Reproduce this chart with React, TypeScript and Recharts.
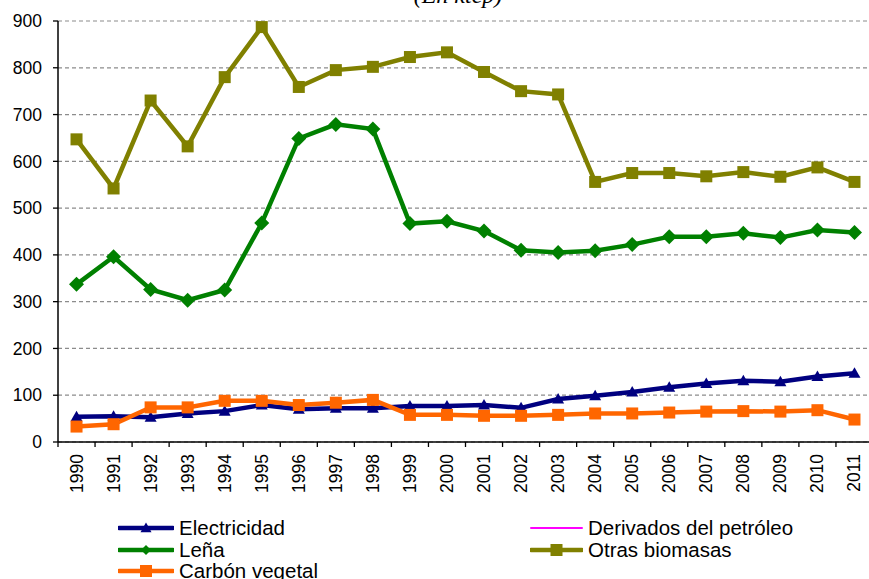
import React from "react";
import {
  LineChart,
  Line,
  XAxis,
  YAxis,
  CartesianGrid,
  Legend,
} from "recharts";

// consumo por fuente, en ktep
const years = [
  "1990", "1991", "1992", "1993", "1994", "1995", "1996", "1997", "1998", "1999", "2000",
  "2001", "2002", "2003", "2004", "2005", "2006", "2007", "2008", "2009", "2010", "2011",
];
const electricidad = [54, 55, 53, 61, 66, 79, 70, 72, 72, 77, 77, 79, 73, 92, 99, 107, 117, 125, 131, 129, 140, 147];
const lena = [337, 396, 326, 303, 325, 468, 649, 679, 669, 467, 472, 451, 410, 405, 409, 422, 439, 439, 446, 437, 453, 448];
const carbonVegetal = [33, 38, 74, 74, 88, 88, 79, 84, 90, 58, 58, 56, 56, 58, 61, 61, 63, 65, 66, 65, 68, 48];
const otrasBiomasas = [647, 542, 730, 632, 780, 887, 759, 795, 802, 823, 833, 791, 750, 743, 556, 575, 575, 568, 577, 567, 587, 556];
const yTicks = [0, 100, 200, 300, 400, 500, 600, 700, 800, 900];
const legendOrder = ["Electricidad", "Derivados del petróleo", "Leña", "Otras biomasas", "Carbón vegetal"];

const data = years.map((year, i) => ({
  year,
  electricidad: electricidad[i],
  lena: lena[i],
  carbon: carbonVegetal[i],
  otras: otrasBiomasas[i],
}));

const FONT = "'Liberation Sans', Arial, sans-serif";

const COLORS = {
  electricidad: "#000080",
  derivados: "#FF00FF",
  lena: "#008000",
  otras: "#808000",
  carbon: "#FF6600",
};

type Shape = "triangle" | "diamond" | "square" | "none";

const markerEl = (shape: Shape, cx: number, cy: number, size: number, color: string, key?: React.Key) => {
  const h = size / 2;
  if (shape === "square") {
    return <rect key={key} x={cx - h} y={cy - h} width={size} height={size} fill={color} />;
  }
  if (shape === "diamond") {
    return (
      <polygon
        key={key}
        points={`${cx},${cy - h} ${cx + h},${cy} ${cx},${cy + h} ${cx - h},${cy}`}
        fill={color}
      />
    );
  }
  if (shape === "triangle") {
    return (
      <polygon
        key={key}
        points={`${cx},${cy - h} ${cx + h},${cy + h * 0.75} ${cx - h},${cy + h * 0.75}`}
        fill={color}
      />
    );
  }
  return <g key={key} />;
};

const dotOf = (shape: Shape, size: number, color: string) => (props: any) =>
  markerEl(shape, props.cx, props.cy, size, color, props.index);

const legendShapes: Record<string, { shape: Shape; size: number }> = {
  Electricidad: { shape: "triangle", size: 11 },
  "Derivados del petróleo": { shape: "none", size: 0 },
  "Leña": { shape: "diamond", size: 10 },
  "Otras biomasas": { shape: "square", size: 12 },
  "Carbón vegetal": { shape: "square", size: 12 },
};

const colLeft = [118, 530];
const colWidth = [56, 53];

// two columns, filled row by row
const renderLegend = (props: any) => {
  const payload: any[] = [...(props.payload || [])].sort(
    (a, b) => legendOrder.indexOf(a.value) - legendOrder.indexOf(b.value)
  );
  return (
    <div style={{ position: "relative", width: 869, height: 63 }}>
      {payload.map((entry: any, i: number) => {
        const col = i % 2;
        const row = Math.floor(i / 2);
        const w = colWidth[col];
        const m = legendShapes[entry.value] || { shape: "none", size: 0 };
        const thin = m.shape === "none";
        return (
          <div
            key={entry.value}
            style={{
              position: "absolute",
              left: colLeft[col],
              top: row * 21.5 + 1,
              height: 22,
              display: "flex",
              alignItems: "center",
              whiteSpace: "nowrap",
            }}
          >
            <svg width={w} height={22} style={{ display: "block" }}>
              <line
                x1={1}
                x2={w - 1}
                y1={11}
                y2={11}
                stroke={entry.color}
                strokeWidth={thin ? 2 : 4.5}
                strokeLinecap="round"
              />
              {markerEl(m.shape, w / 2, 11, m.size, entry.color)}
            </svg>
            <span
              style={{
                marginLeft: 5,
                fontFamily: FONT,
                fontSize: 20.5,
                color: "#000",
                lineHeight: "22px",
              }}
            >
              {entry.value}
            </span>
          </div>
        );
      })}
    </div>
  );
};

// year labels read upward; tick marks sit on the category boundaries
const YearTick = (props: any) => {
  const { x, y, payload, index, visibleTicksCount } = props;
  const half = payload.offset ?? 0;
  const last = index === visibleTicksCount - 1;
  return (
    <g>
      <line x1={x - half} x2={x - half} y1={y} y2={y + 5} stroke="#000" strokeWidth={1.3} />
      {last && <line x1={x + half} x2={x + half} y1={y} y2={y + 5} stroke="#000" strokeWidth={1.3} />}
      <text
        x={x}
        y={y + 12}
        transform={`rotate(-90, ${x}, ${y + 12})`}
        textAnchor="end"
        dominantBaseline="central"
        fontFamily={FONT}
        fontSize={17.5}
        fill="#000"
      >
        {payload.value}
      </text>
    </g>
  );
};

const App: React.FC = () => {
  return (
    <div style={{ position: "absolute", left: 0, top: 0, width: 869, height: 579, overflow: "hidden", background: "#fff" }}>
      <LineChart
        width={880}
        height={579}
        data={data}
        margin={{ top: 21, right: 7, left: 8, bottom: 77 }}
      >
        <text x={458} y={3} textAnchor="middle" fontFamily="'Liberation Serif', 'Times New Roman', serif" fontStyle="italic" fontSize={24} fill="#000">
          (En ktep)
        </text>
        <CartesianGrid vertical={false} stroke="#8c8c8c" strokeDasharray="4 3" strokeWidth={1.2} />
        <XAxis
          dataKey="year"
          scale="band"
          interval={0}
          height={60}
          tickLine={false}
          tickSize={0}
          tickMargin={0}
          axisLine={{ stroke: "#000", strokeWidth: 1.5 }}
          tick={<YearTick />}
        />
        <YAxis
          domain={[0, 900]}
          ticks={yTicks}
          width={50}
          tickSize={5}
          tickMargin={11}
          axisLine={{ stroke: "#000", strokeWidth: 1.5 }}
          tickLine={{ stroke: "#000", strokeWidth: 1.3 }}
          tick={{ fill: "#000", fontSize: 17.5, fontFamily: FONT }}
        />
        <Legend
          layout="horizontal"
          verticalAlign="middle"
          align="center"
          content={renderLegend}
          wrapperStyle={{ top: 516, left: 0, width: 869, height: 63 }}
        />
        <Line
          name="Electricidad"
          dataKey="electricidad"
          stroke={COLORS.electricidad}
          strokeWidth={4.5}
          dot={dotOf("triangle", 12, COLORS.electricidad)}
          isAnimationActive={false}
        />
        <Line
          name="Derivados del petróleo"
          dataKey="derivados"
          stroke={COLORS.derivados}
          strokeWidth={2}
          dot={false}
          isAnimationActive={false}
        />
        <Line
          name="Leña"
          dataKey="lena"
          stroke={COLORS.lena}
          strokeWidth={4.5}
          dot={dotOf("diamond", 15, COLORS.lena)}
          isAnimationActive={false}
        />
        <Line
          name="Otras biomasas"
          dataKey="otras"
          stroke={COLORS.otras}
          strokeWidth={4.5}
          dot={dotOf("square", 12, COLORS.otras)}
          isAnimationActive={false}
        />
        <Line
          name="Carbón vegetal"
          dataKey="carbon"
          stroke={COLORS.carbon}
          strokeWidth={4.5}
          dot={dotOf("square", 12, COLORS.carbon)}
          isAnimationActive={false}
        />
      </LineChart>
    </div>
  );
};

export default App;
